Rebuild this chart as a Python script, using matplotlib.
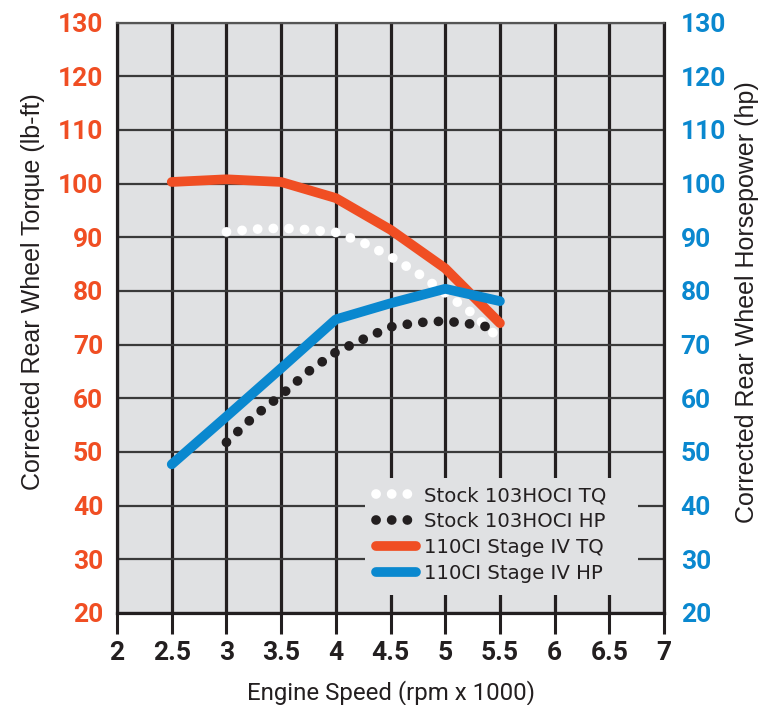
import matplotlib
matplotlib.use("Agg")
import matplotlib.pyplot as plt
from matplotlib.patches import Rectangle

# stock 103HOCI torque / hp (dotted), 110CI stage IV (solid)
rpm_stock = [3.0, 3.25, 3.5, 3.75, 4.0, 4.25, 4.5, 4.75, 5.0, 5.25, 5.5]
stock_tq = [91.0, 91.5, 91.7, 91.4, 90.9, 89.0, 86.4, 83.3, 79.6, 75.8, 71.0]
stock_hp = [51.8, 56.6, 60.6, 65.0, 68.6, 71.0, 73.3, 74.1, 74.4, 73.8, 72.9]

rpm_s4 = [2.5, 3.0, 3.5, 4.0, 4.5, 5.0, 5.5]
s4_tq = [100.3, 100.8, 100.3, 97.3, 91.4, 84.2, 74.0]
s4_hp = [47.7, 56.6, 65.6, 74.7, 77.7, 80.4, 78.1]

xticks = [2, 2.5, 3, 3.5, 4, 4.5, 5, 5.5, 6, 6.5, 7]
xlabels = ['2', '2.5', '3', '3.5', '4', '4.5', '5', '5.5', '6', '6.5', '7']
yticks = list(range(20, 131, 10))

RED = '#f04e23'
BLUE = '#0a88cf'
BG = '#e0e1e3'
INK = '#231f20'
TICKFONT = dict(family='Roboto', fontsize=19, fontweight='bold')

fig = plt.figure(figsize=(7.6, 7.05), dpi=100)
ax = fig.add_axes([0.154, 0.1305, 0.7197, 0.8375])
ax.set_facecolor(BG)
ax.set_xlim(2, 7)
ax.set_ylim(20, 130)

ax.set_xticks(xticks)
ax.set_xticklabels(xlabels, color=INK, **TICKFONT)
ax.set_yticks(yticks)
ax.set_yticklabels([str(v) for v in yticks], color=RED, **TICKFONT)
ax.tick_params(axis='x', length=15, width=2.2, color=INK, pad=5)
ax.tick_params(axis='y', length=0, pad=10)

ax.xaxis.grid(True, color=INK, lw=2.3)
ax.yaxis.grid(True, color='#3a3a3a', lw=1.6)
ax.set_axisbelow(True)
for s in ['left', 'right', 'bottom']:
    ax.spines[s].set_color(INK)
    ax.spines[s].set_linewidth(2.3)
ax.spines['top'].set_color('#555555')
ax.spines['top'].set_linewidth(1.6)

# legend background covers the grid
ax.add_patch(Rectangle((0.453, 0.030), 0.499, 0.199, transform=ax.transAxes,
                       facecolor=BG, edgecolor='none', zorder=2))

ax.plot(rpm_stock, stock_tq, color='white', lw=7, linestyle=(0, (0.01, 1.6)),
        dash_capstyle='round', label='Stock 103HOCI TQ', zorder=3)
ax.plot(rpm_stock, stock_hp, color=INK, lw=7, linestyle=(0, (0.01, 1.6)),
        dash_capstyle='round', label='Stock 103HOCI HP', zorder=3)
ax.plot(rpm_s4, s4_tq, color=RED, lw=7, solid_capstyle='round',
        label='110CI Stage IV TQ', zorder=4)
ax.plot(rpm_s4, s4_hp, color=BLUE, lw=7, solid_capstyle='round',
        label='110CI Stage IV HP', zorder=4)

ax.set_xlabel('Engine Speed (rpm x 1000)', fontsize=17.3, family='Roboto',
              color=INK, labelpad=11)
ax.set_ylabel('Corrected Rear Wheel Torque (lb-ft)', fontsize=18,
              family='Liberation Sans', color=INK)
ax.yaxis.label.set_va('center')
ax.yaxis.set_label_coords(-0.1536, 0.544)

ax2 = ax.twinx()
ax2.set_ylim(20, 130)
ax2.set_yticks(yticks)
ax2.set_yticklabels([str(v) for v in yticks], color=BLUE, **TICKFONT)
ax2.tick_params(axis='y', length=0, pad=12)
ax2.set_ylabel('Corrected Rear Wheel Horsepower (hp)', fontsize=18,
               family='Liberation Sans', color=INK)
ax2.yaxis.label.set_va('center')
ax2.yaxis.set_label_coords(1.152, 0.527)
for s in ax2.spines.values():
    s.set_visible(False)

leg = ax.legend(loc='center', bbox_to_anchor=(0.684, 0.133), fontsize=14.2,
                frameon=False, handlelength=2.0, handletextpad=0.4,
                labelspacing=0.35, borderpad=0.2)
for t in leg.get_texts():
    t.set_color(INK)
leg.set_zorder(10)

fig.savefig('out.png', dpi=100)
